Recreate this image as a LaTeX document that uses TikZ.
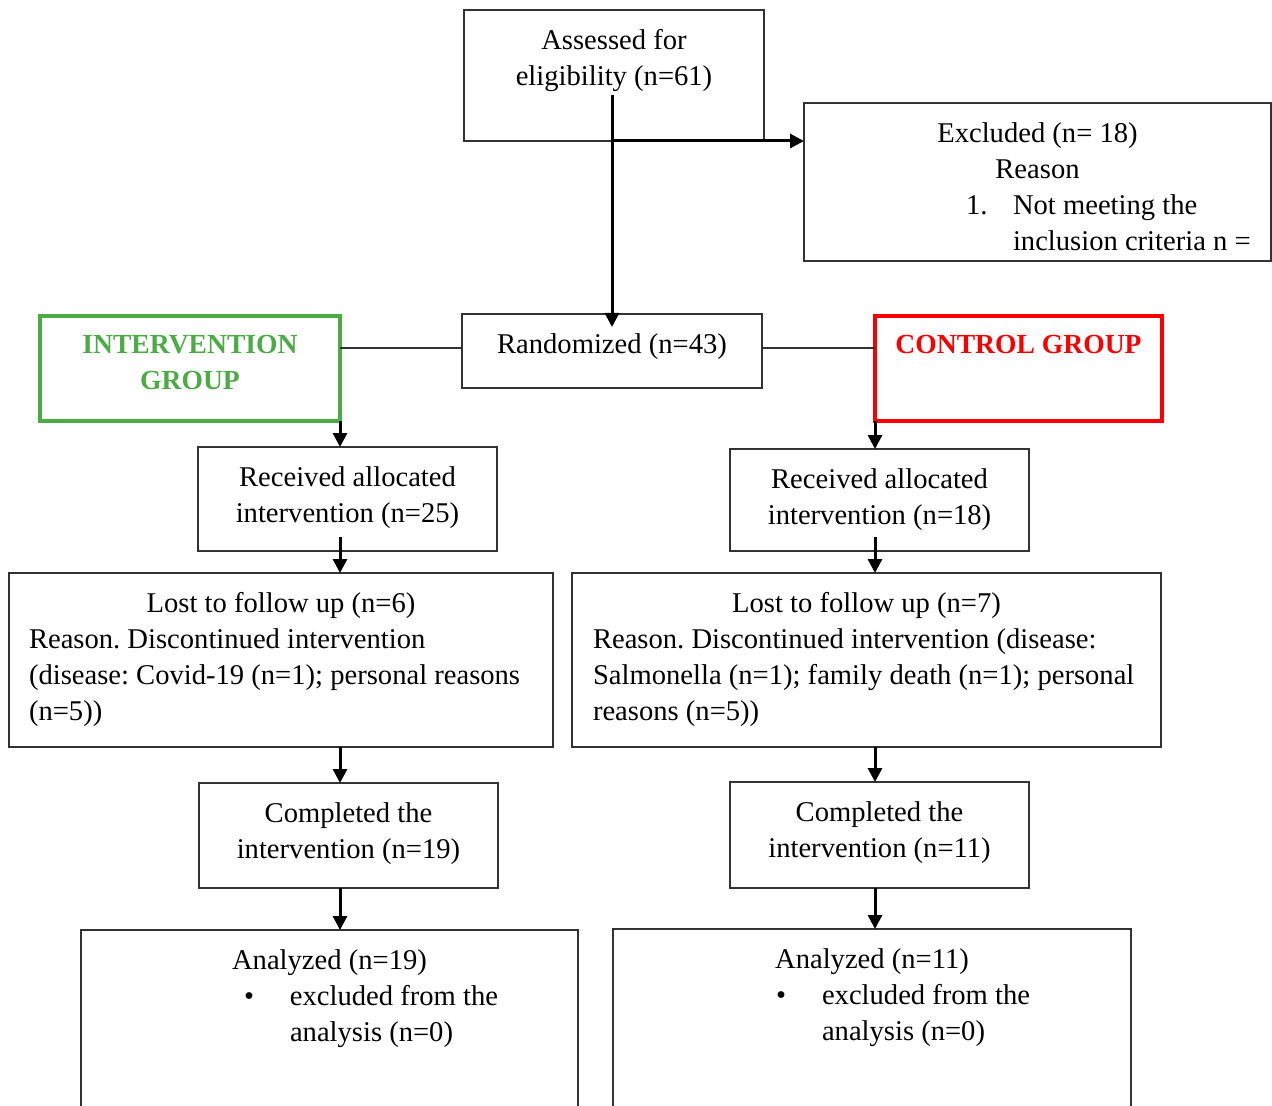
\documentclass[tikz,border=0pt]{standalone}
\usepackage{fontspec}
\setmainfont{Liberation Serif}
\usetikzlibrary{arrows.meta,positioning}
\definecolor{igreen}{RGB}{75,172,68}
\definecolor{cred}{RGB}{250,0,0}
\frenchspacing

\begin{document}
\begin{tikzpicture}[x=0.5pt, y=-0.5pt, font=\fontsize{14.3pt}{18pt}\selectfont,
  box/.style={draw=black!80, line width=.7pt, inner sep=0pt, outer sep=0pt},
  lbl/.style={anchor=north, yshift=-9.5pt, inner sep=0pt, align=center},
  lbll/.style={lbl, align=left},
  grptxt/.style={lbl, font=\fontsize{13.8pt}{18pt}\selectfont\bfseries},
  arr/.style={-{Triangle[length=7pt,width=7pt]}, line width=1.5pt},
  conn/.style={line width=.7pt, draw=black!80}]
\useasboundingbox (0,0) rectangle (1272,1106);

\node[box, minimum width=150pt, minimum height=65.5pt,
  label={[lbl]north:Assessed for\\eligibility (n=61)}] (assess) at (614,75.5) {};
\node[box, minimum width=233.5pt, minimum height=79pt,
  label={[lbll]north:\makebox[233.5pt]{Excluded (n= 18)}\\\makebox[233.5pt]{Reason}\\\hspace*{81pt}\makebox[23.5pt][l]{1.}Not meeting the\\\hspace*{104.5pt}inclusion criteria n =}] (excl) at (1037.5,182) {};
\node[box, minimum width=150pt, minimum height=37pt,
  label={[lbl]north:Randomized (n=43)}] (rand) at (612,351) {};
\node[box, draw=igreen, line width=2pt, minimum width=150pt, minimum height=52.5pt,
  label={[grptxt, text=igreen]north:INTERVENTION\\GROUP}] (intv) at (190,368.5) {};
\node[box, draw=cred, line width=2pt, minimum width=143.5pt, minimum height=52.5pt,
  label={[grptxt, text=cred]north:CONTROL GROUP}] (ctrl) at (1018.5,368.5) {};

\node[box, minimum width=149.5pt, minimum height=52pt,
  label={[lbl]north:Received allocated\\intervention (n=25)}] (recL) at (347.5,499) {};
\node[box, minimum width=149.5pt, minimum height=51pt,
  label={[lbl]north:Received allocated\\intervention (n=18)}] (recR) at (879.5,500) {};
\node[box, minimum width=272pt, minimum height=87pt,
  label={[lbll]north:\makebox[252pt]{Lost to follow up (n=6)}\\Reason. Discontinued intervention\\(disease: Covid-19 (n=1); personal reasons\\(n=5))}] (lostL) at (281,660) {};
\node[box, minimum width=294.5pt, minimum height=87pt,
  label={[lbll]north:\makebox[273.5pt]{Lost to follow up (n=7)}\\Reason. Discontinued intervention (disease:\\Salmonella (n=1); family death (n=1); personal\\reasons (n=5))}] (lostR) at (866.5,660) {};
\node[box, minimum width=149.5pt, minimum height=52.5pt,
  label={[lbl]north:Completed the\\intervention (n=19)}] (compL) at (348.5,835.5) {};
\node[box, minimum width=149.5pt, minimum height=53pt,
  label={[lbl]north:Completed the\\intervention (n=11)}] (compR) at (879.5,835) {};
\node[box, minimum width=248.5pt, minimum height=100pt,
  label={[lbll]north:\makebox[248.5pt]{Analyzed (n=19)}\\\hspace*{81.5pt}\makebox[23pt][l]{\textbullet}excluded from the\\\hspace*{104.5pt}analysis (n=0)}] (anlL) at (329.5,1030) {};
\node[box, minimum width=259pt, minimum height=100.5pt,
  label={[lbll]north:\makebox[259pt]{Analyzed (n=11)}\\\hspace*{81.5pt}\makebox[23pt][l]{\textbullet}excluded from the\\\hspace*{104.5pt}analysis (n=0)}] (anlR) at (872,1029.5) {};

\draw[arr] ([yshift=-10pt]assess.center -| rand.north) -- ([yshift=-6.5pt]rand.north);
\draw[arr] (assess.south -| rand.north) -- (assess.south -| excl.west);
\draw[conn] ([yshift=1.5pt]rand.west -| intv.east) -- ([yshift=1.5pt]rand.west);
\draw[conn] ([yshift=1.5pt]rand.east) -- ([yshift=1.5pt]rand.east -| ctrl.west);

\draw[arr] (intv.south east) -- (intv.south east |- recL.north);
\draw[arr] ([yshift=7pt]recL.south -| intv.east) -- (lostL.north -| intv.east);
\draw[arr] (lostL.south -| intv.east) -- (compL.north -| intv.east);
\draw[arr] (compL.south -| intv.east) -- (anlL.north -| intv.east);

\draw[arr] (ctrl.south west) -- (ctrl.south west |- recR.north);
\draw[arr] ([yshift=7pt]recR.south -| ctrl.west) -- (lostR.north -| ctrl.west);
\draw[arr] (lostR.south -| ctrl.west) -- (compR.north -| ctrl.west);
\draw[arr] (compR.south -| ctrl.west) -- (anlR.north -| ctrl.west);
\end{tikzpicture}
\end{document}
